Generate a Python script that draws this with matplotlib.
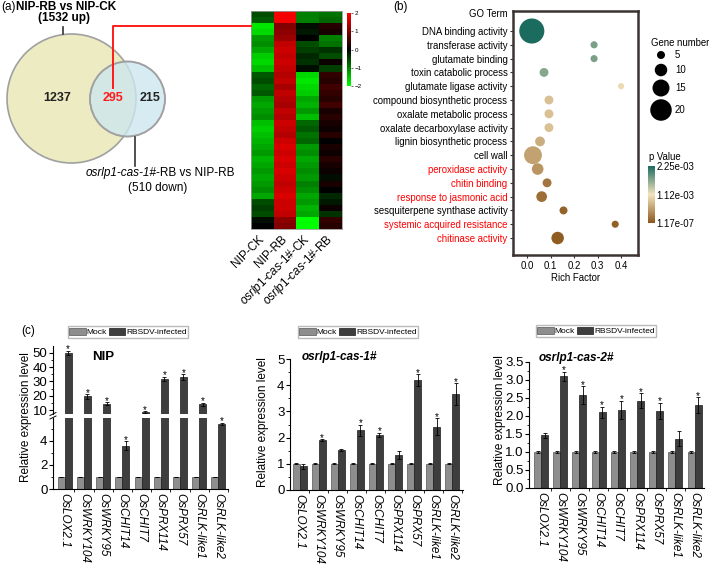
import numpy as np
import matplotlib
matplotlib.use("Agg")
import matplotlib.pyplot as plt
from matplotlib.colors import LinearSegmentedColormap, Normalize
from matplotlib.patches import Circle, Patch
from matplotlib.ticker import MultipleLocator

plt.rcParams["font.family"] = "Liberation Sans"
plt.rcParams["mathtext.fontset"] = "custom"
plt.rcParams["mathtext.it"] = "Liberation Sans:italic"
plt.rcParams["mathtext.rm"] = "Liberation Sans"
plt.rcParams["mathtext.bf"] = "Liberation Sans:bold"

W, H = 709, 568

# ---------------------------------------------------------------- data
venn_counts = [1237, 295, 215]

hm_samples = ["NIP-CK", "NIP-RB",
              r"$\it{osrlp1}$-$\it{cas}$-$\it{1\#}$-CK",
              r"$\it{osrlp1}$-$\it{cas}$-$\it{1\#}$-RB"]
hm_nip_ck = [-0.6, -0.7, -1.8, -1.7, -1.2, -1.1, -1.3, -1.6, -1.7, -1.5,
             -0.7, -0.6, -0.8, -0.7, -1.2, -1.3, -1.2, -1.1, -1.5, -1.6,
             -1.5, -1.4, -1.3, -1.2, -1.4, -1.3, -1.2, -1.3, -1.2, -1.1,
             -1.3, -0.6, -0.5, -0.6, -0.1, 0.0]
hm_nip_rb = [1.9, 1.9, 1.0, 1.1, 1.2, 1.5, 1.6, 1.5, 1.6, 1.5,
             1.4, 1.5, 1.3, 1.5, 1.4, 1.3, 1.5, 1.4, 1.6, 1.5,
             1.4, 1.6, 1.7, 1.6, 1.7, 1.6, 1.7, 1.6, 1.5, 1.6,
             1.7, 1.6, 1.6, 1.5, 1.1, 1.0]
hm_cas_ck = [-1.0, -1.0, -0.1, -0.2, 0.0, -0.6, -0.5, -0.3, -0.4, -0.1,
             -1.7, -1.8, -1.7, -1.6, -1.3, -1.4, -1.2, -1.5, -0.8, -0.7,
             -0.9, -0.8, -1.2, -1.1, -1.3, -1.2, -1.1, -1.2, -1.0, -1.1,
             -1.3, -1.2, -1.4, -1.3, -2.0, -2.0]
hm_cas_rb = [-0.9, -0.8, 0.3, 0.2, -1.0, -0.9, -0.4, -0.6, 0.1, -0.5,
             0.4, 0.3, 0.5, 0.4, 0.3, 0.5, 0.2, 0.3, 0.2, 0.1,
             0.3, 0.0, 0.2, 0.1, 0.3, 0.2, 0.1, -0.1, 0.2, 0.0,
             -0.3, -0.2, 0.1, -0.4, 0.4, 0.3]

go_terms = ["DNA binding activity", "transferase activity", "glutamate binding",
            "toxin catabolic process", "glutamate ligase activity",
            "compound biosynthetic process", "oxalate metabolic process",
            "oxalate decarboxylase activity", "lignin biosynthetic process",
            "cell wall", "peroxidase activity", "chitin binding",
            "response to jasmonic acid", "sesquiterpene synthase activity",
            "systemic acquired resistance", "chitinase activity"]
go_red = ["peroxidase activity", "chitin binding", "response to jasmonic acid",
          "systemic acquired resistance", "chitinase activity"]
rich_factor = [0.02, 0.285, 0.285, 0.072, 0.40, 0.093, 0.093, 0.093, 0.055,
               0.025, 0.045, 0.085, 0.062, 0.155, 0.375, 0.13]
gene_number = [24, 4, 4, 6, 3, 6, 6, 6, 7, 16, 9, 6, 8, 5, 4, 10]
p_value = [2.25e-3, 1.75e-3, 1.75e-3, 1.68e-3, 1.05e-3, 0.85e-3, 0.85e-3,
           0.85e-3, 0.7e-3, 0.6e-3, 0.5e-3, 0.25e-3, 0.2e-3, 0.1e-3,
           0.08e-3, 0.05e-3]
size_legend = [5, 10, 15, 20]

genes = ["OsLOX2.1", "OsWRKY104", "OsWRKY95", "OsCHIT14", "OsCHIT7",
         "OsPRX114", "OsPRX57", "OsRLK-like1", "OsRLK-like2"]
mock = [1.0, 1.0, 1.0, 1.0, 1.0, 1.0, 1.0, 1.0, 1.0]
mock_err = [0.02, 0.02, 0.02, 0.02, 0.02, 0.02, 0.02, 0.02, 0.02]

nip_inf = [50.0, 19.5, 14.5, 3.6, 8.5, 32.0, 33.0, 14.0, 5.4]
nip_err = [1.5, 1.5, 1.0, 0.35, 0.6, 1.5, 2.0, 1.0, 0.12]
nip_star = [1, 1, 1, 1, 1, 1, 1, 1, 1]

cas1_inf = [0.9, 1.9, 1.53, 2.28, 2.1, 1.35, 4.2, 2.42, 3.65]
cas1_err = [0.08, 0.04, 0.03, 0.22, 0.08, 0.15, 0.22, 0.32, 0.42]
cas1_star = [0, 1, 0, 1, 1, 0, 1, 1, 1]

cas2_inf = [1.47, 3.1, 2.58, 2.1, 2.18, 2.43, 2.14, 1.37, 2.3]
cas2_err = [0.07, 0.12, 0.25, 0.15, 0.25, 0.2, 0.22, 0.2, 0.22]
cas2_star = [0, 1, 1, 1, 1, 1, 1, 0, 1]


def rect(l, t, r, b):
    return [l / W, 1 - b / H, (r - l) / W, (b - t) / H]


def bubble(n):
    r_px = 4 + 0.45 * (np.asarray(n) - 5)
    return (2 * r_px * 0.72) ** 2


fig = plt.figure(figsize=(W / 100, H / 100), dpi=100)

# overlay in pixel coordinates (drawn on top of the other axes)
ax0 = fig.add_axes([0, 0, 1, 1], zorder=5)
ax0.set_xlim(0, W)
ax0.set_ylim(H, 0)
ax0.axis("off")
ax0.patch.set_visible(False)

# ---------------------------------------------------------------- (a) venn
ax0.add_patch(Circle((71.5, 98.5), 64.5, fc="#ecebc2", ec="#a0a0a0", lw=1.2))
ax0.add_patch(Circle((127.5, 99), 37.5, fc="#cde6ef", ec="#a0a0a0", lw=1.2, alpha=0.8))
ax0.add_patch(Circle((127.5, 99), 37.5, fc="none", ec="#a0a0a0", lw=1.2))
ax0.text(57, 98, str(venn_counts[0]), ha="center", va="center", fontsize=9, fontweight="bold", color="#222222")
ax0.text(113, 98, str(venn_counts[1]), ha="center", va="center", fontsize=9, fontweight="bold", color="#ff1a1a")
ax0.text(150, 98, str(venn_counts[2]), ha="center", va="center", fontsize=9, fontweight="bold", color="#222222")

ax0.text(1, 7, "(a)", ha="left", va="center", fontsize=8.5)
ax0.text(66, 7, "NIP-RB vs NIP-CK", ha="center", va="center", fontsize=8.5, fontweight="bold")
ax0.text(64, 18, "(1532 up)", ha="center", va="center", fontsize=8.5, fontweight="bold")
ax0.plot([63, 63], [27, 34], color="#333333", lw=1.2)
ax0.plot([135, 135], [137, 166], color="#333333", lw=1.2)
ax0.text(156, 173, "osrlp1-cas-1#", ha="right", va="center", fontsize=8.5, fontstyle="italic")
ax0.text(156, 173, "-RB vs NIP-RB", ha="left", va="center", fontsize=8.5)
ax0.text(158, 188, "(510 down)", ha="center", va="center", fontsize=8.5)
ax0.plot([113, 113, 251], [88, 26, 26], color="#ff1a1a", lw=1.4)

# heatmap
hm = np.array([hm_nip_ck, hm_nip_rb, hm_cas_ck, hm_cas_rb]).T
cmap_hm = LinearSegmentedColormap.from_list("gbr", ["#00ff00", "#000000", "#ff0000"])
axh = fig.add_axes(rect(251, 11, 342, 229))
im = axh.imshow(hm, aspect="auto", cmap=cmap_hm, vmin=-2, vmax=2, interpolation="nearest")
axh.set_yticks([])
axh.set_xticks(range(4))
axh.set_xticklabels(hm_samples, rotation=45, ha="right", va="center",
                    rotation_mode="anchor", fontsize=8.5)
axh.tick_params(axis="x", length=0, pad=6)
for s in axh.spines.values():
    s.set_color("#999999")
    s.set_linewidth(0.6)

cax = fig.add_axes(rect(347, 13, 351, 86))
cb = fig.colorbar(im, cax=cax, ticks=[-2, -1, 0, 1, 2])
cb.outline.set_visible(False)
cb.ax.tick_params(labelsize=4.5, length=1.5, width=0.4, pad=1)

# ---------------------------------------------------------------- (b) GO
ax0.text(393, 7, "(b)", ha="left", va="center", fontsize=8.5)
cmap_go = LinearSegmentedColormap.from_list("go", ["#8b571b", "#f3e4bd", "#1b6b5f"])
norm_go = Normalize(vmin=1.17e-07, vmax=2.25e-03)
axg = fig.add_axes(rect(513, 11, 638, 255))
yy = np.arange(len(go_terms))
sc = axg.scatter(rich_factor, yy, s=bubble(gene_number), c=p_value, cmap=cmap_go,
                 norm=norm_go, edgecolors="none", zorder=3)
axg.set_xlim(-0.06, 0.472)
axg.set_ylim(16.23, -1.45)
axg.set_yticks(yy)
axg.set_yticklabels(go_terms, fontsize=6.9)
for lab in axg.get_yticklabels():
    if lab.get_text() in go_red:
        lab.set_color("#ff0000")
axg.set_xticks([0.0, 0.1, 0.2, 0.3, 0.4])
axg.set_xticklabels(["0.0", "0.1", "0.2", "0.3", "0.4"], fontsize=6.9)
axg.tick_params(length=2.5, width=0.8, pad=1.5, color="#333333")
axg.set_xlabel("Rich Factor", fontsize=6.9, labelpad=2)
for s in axg.spines.values():
    s.set_color("#3b3432")
    s.set_linewidth(1.8)
axg.annotate("GO Term", xy=(0, -1.25), xycoords=("axes fraction", "data"),
             xytext=(-4, 0), textcoords="offset points", ha="right", va="center", fontsize=6.9)

ax0.text(651, 43, "Gene number", ha="left", va="center", fontsize=6.9)
leg_y = [55, 70, 88, 110]
ax0.scatter([661] * 4, leg_y, s=bubble(size_legend), color="black", edgecolors="none")
for yv, n in zip(leg_y, size_legend):
    ax0.text(675, yv, str(n), ha="left", va="center", fontsize=6.9)

ax0.text(649, 157, "p Value", ha="left", va="center", fontsize=6.9)
pax = fig.add_axes(rect(648, 166, 655, 223))
cb2 = fig.colorbar(sc, cax=pax, ticks=[1.17e-07, 1.12e-03, 2.25e-03])
cb2.ax.set_yticklabels(["1.17e-07", "1.12e-03", "2.25e-03"])
cb2.outline.set_visible(False)
cb2.ax.tick_params(labelsize=6.9, length=0, pad=1)

# ---------------------------------------------------------------- (c) bars
c_mock = "#8e8e8e"
c_inf = "#3e3e3e"
bw = 0.365


def draw_bars(ax, inf, inf_err, star):
    ax.patch.set_visible(False)
    x = np.arange(len(genes))
    ek = dict(ecolor="black", elinewidth=0.6, capsize=1.3, capthick=0.6)
    ax.bar(x - bw / 2, mock, bw, yerr=mock_err, color=c_mock, edgecolor="#555555",
           linewidth=0.5, error_kw=ek)
    ax.bar(x + bw / 2, inf, bw, yerr=inf_err, color=c_inf, edgecolor="#1a1a1a",
           linewidth=0.5, error_kw=ek)
    for i in range(len(genes)):
        if star[i]:
            ax.annotate("*", (x[i] + bw / 2, inf[i] + inf_err[i]), xytext=(0, -2.5),
                        textcoords="offset points", ha="center", va="bottom", fontsize=7)
    ax.spines["top"].set_visible(False)
    ax.spines["right"].set_visible(False)
    ax.tick_params(axis="y", labelsize=9.5, length=3, width=0.8, pad=1)
    ax.tick_params(axis="y", which="minor", length=1.8, width=0.6)
    ax.set_xticks(x)
    ax.set_xticklabels(genes, rotation=-90, fontsize=8.5, fontstyle="italic", va="top")
    ax.set_xticks(x + 0.5, minor=True)
    ax.tick_params(axis="x", length=0, pad=3)
    ax.tick_params(axis="x", which="minor", length=2.5, width=0.6)


def add_legend(cx, cy):
    handles = [Patch(fc=c_mock, ec="#555555", lw=0.5), Patch(fc=c_inf, ec="#1a1a1a", lw=0.5)]
    fig.legend(handles, ["Mock", "RBSDV-infected"], loc="center",
               bbox_to_anchor=(cx / W, 1 - cy / H), ncol=2, fontsize=6,
               frameon=True, fancybox=False, edgecolor="#bbbbbb", framealpha=1,
               handlelength=2.0, handleheight=0.9, handletextpad=0.1,
               columnspacing=0.2, borderpad=0.2, borderaxespad=0)


# NIP with a broken axis
axl = fig.add_axes(rect(53, 418, 228, 489))
axu = fig.add_axes(rect(53, 346, 228, 414))
for ax in (axl, axu):
    draw_bars(ax, nip_inf, nip_err, nip_star)
    ax.set_xlim(-0.61, 8.5)
axl.set_ylim(0, 5.9)
axl.set_yticks([0, 2, 4])
axl.yaxis.set_minor_locator(MultipleLocator(1))
axu.set_ylim(7.2, 54.9)
axu.set_yticks([10, 20, 30, 40, 50])
axu.yaxis.set_minor_locator(MultipleLocator(5))
axu.spines["bottom"].set_visible(False)
axu.tick_params(axis="x", which="both", bottom=False, labelbottom=False)
ax0.plot([50, 56], [415.5, 412.5], color="black", lw=0.7)
ax0.plot([50, 56], [419, 416], color="black", lw=0.7)
ax0.text(92, 357, "NIP", ha="left", va="center", fontsize=9.5, fontweight="bold")
ax0.text(26, 417, "Relative expression level", rotation=90, ha="center", va="center", fontsize=8.5)
ax0.text(21, 331, "(c)", ha="left", va="center", fontsize=8.5)
add_legend(128, 332)

ax2 = fig.add_axes(rect(290, 359, 463, 490))
draw_bars(ax2, cas1_inf, cas1_err, cas1_star)
ax2.set_xlim(-0.5, 8.56)
ax2.set_ylim(0, 5)
ax2.set_yticks([0, 1, 2, 3, 4, 5])
ax2.yaxis.set_minor_locator(MultipleLocator(0.5))
ax0.text(302, 357, "osrlp1-cas-1#", ha="left", va="center", fontsize=8.5,
         fontweight="bold", fontstyle="italic")
ax0.text(263, 422, "Relative expression level", rotation=90, ha="center", va="center", fontsize=8.5)
add_legend(358, 332)

ax3 = fig.add_axes(rect(529, 362, 704, 488))
draw_bars(ax3, cas2_inf, cas2_err, cas2_star)
ax3.set_xlim(-0.63, 8.49)
ax3.set_ylim(0, 3.5)
ax3.set_yticks(np.arange(0, 3.51, 0.5))
ax3.set_yticklabels(["0.0", "0.5", "1.0", "1.5", "2.0", "2.5", "3.0", "3.5"])
ax3.yaxis.set_minor_locator(MultipleLocator(0.25))
ax0.text(539, 358, "osrlp1-cas-2#", ha="left", va="center", fontsize=8.5,
         fontweight="bold", fontstyle="italic")
ax0.text(500, 420, "Relative expression level", rotation=90, ha="center", va="center", fontsize=8.5)
add_legend(596, 331)

fig.savefig("out.png", dpi=100)
